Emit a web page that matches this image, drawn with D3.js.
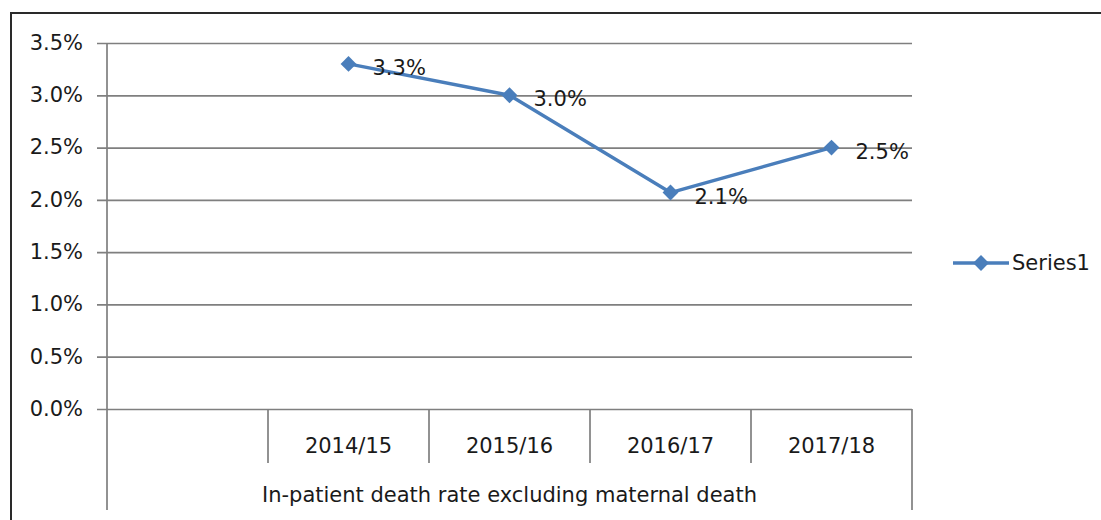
<!DOCTYPE html>
<html>
<head>
<meta charset="utf-8">
<script src="https://cdn.jsdelivr.net/npm/d3@7"></script>
<style>
  html, body { margin: 0; padding: 0; background: #ffffff; }
  svg { display: block; }
  text { font-family: "DejaVu Sans", sans-serif; fill: #1a1a1a; }
</style>
</head>
<body>
<svg id="chart" width="1101" height="520"></svg>
<script>
// ---- data ----
const categories = ["", "2014/15", "2015/16", "2016/17", "2017/18"];
const values = [null, 0.033, 0.030, 0.0207, 0.025];
const valueLabels = [null, "3.3%", "3.0%", "2.1%", "2.5%"];
const yTicks = [0, 0.005, 0.010, 0.015, 0.020, 0.025, 0.030, 0.035];
const groupLabel = "In-patient death rate excluding maternal death";
const seriesName = "Series1";

// ---- layout ----
const W = 1101, H = 520;
const plot = { left: 107, right: 912, top: 43, bottom: 409 };
const lineColor = "#4a7ebb";
const gridColor = "#7f7f7f";
const fs = 21;

const svg = d3.select("#chart");

// outer chart border (extends beyond right/bottom)
svg.append("rect")
  .attr("x", 11).attr("y", 13)
  .attr("width", W + 20).attr("height", H + 20)
  .attr("fill", "#ffffff")
  .attr("stroke", "#2a2a2a").attr("stroke-width", 2);

const x = d3.scaleBand().domain(categories).range([plot.left, plot.right]).padding(0);
const y = d3.scaleLinear().domain([0, 0.035]).range([plot.bottom, plot.top]);

// gridlines + y labels
const yAxis = d3.axisLeft(y)
  .tickValues(yTicks)
  .tickFormat(d3.format(".1%"))
  .tickSize(plot.right - (plot.left - 10))
  .tickPadding(14);
const gy = svg.append("g")
  .attr("transform", `translate(${plot.right},0)`)
  .call(yAxis);
gy.select(".domain").remove();
gy.selectAll(".tick line").attr("stroke", gridColor).attr("stroke-width", 1.7);
gy.selectAll(".tick text")
  .style("font-family", '"DejaVu Sans", sans-serif')
  .attr("font-size", fs).attr("fill", "#1a1a1a").attr("dy", "0.3em");

// y axis line
svg.append("line")
  .attr("x1", plot.left).attr("x2", plot.left)
  .attr("y1", plot.top).attr("y2", 510)
  .attr("stroke", gridColor).attr("stroke-width", 1.7);
// right outer category edge
svg.append("line")
  .attr("x1", plot.right).attr("x2", plot.right)
  .attr("y1", plot.bottom).attr("y2", 510)
  .attr("stroke", gridColor).attr("stroke-width", 1.7);

// inner category dividers
svg.append("g").selectAll("line")
  .data(categories.slice(1))
  .join("line")
  .attr("x1", d => x(d)).attr("x2", d => x(d))
  .attr("y1", plot.bottom).attr("y2", 463)
  .attr("stroke", gridColor).attr("stroke-width", 1.7);

// category labels
const xAxis = d3.axisBottom(x).tickSize(0).tickPadding(0);
const gx = svg.append("g")
  .attr("transform", `translate(0,${plot.bottom})`)
  .call(xAxis);
gx.select(".domain").remove();
gx.selectAll(".tick text")
  .style("font-family", '"DejaVu Sans", sans-serif')
  .attr("font-size", fs).attr("fill", "#1a1a1a")
  .attr("y", 0).attr("dy", 0)
  .attr("transform", "translate(0,44)");

// group label
svg.append("text")
  .attr("x", (plot.left + plot.right) / 2)
  .attr("y", 502)
  .attr("text-anchor", "middle")
  .attr("font-size", fs)
  .text(groupLabel);

// series line
const pts = categories.map((c, i) => ({ c, v: values[i], l: valueLabels[i] })).filter(d => d.v != null);
const line = d3.line().x(d => x(d.c) + x.bandwidth() / 2).y(d => y(d.v));
svg.append("path")
  .datum(pts)
  .attr("d", line)
  .attr("fill", "none")
  .attr("stroke", lineColor)
  .attr("stroke-width", 3.4)
  .attr("stroke-linejoin", "round");

// markers
const diamond = d3.symbol().type(d3.symbolDiamond2).size(160);
svg.append("g").selectAll("path")
  .data(pts)
  .join("path")
  .attr("d", diamond)
  .attr("transform", d => `translate(${x(d.c) + x.bandwidth() / 2},${y(d.v)})`)
  .attr("fill", lineColor);

// data labels
svg.append("g").selectAll("text")
  .data(pts)
  .join("text")
  .attr("x", d => x(d.c) + x.bandwidth() / 2 + 24)
  .attr("y", d => y(d.v) + 11)
  .attr("font-size", fs)
  .text(d => d.l);

// legend
const lg = svg.append("g").attr("transform", "translate(953,263)");
lg.append("line").attr("x1", 0).attr("x2", 56).attr("y1", 0).attr("y2", 0)
  .attr("stroke", lineColor).attr("stroke-width", 3.4);
lg.append("path").attr("d", diamond).attr("transform", "translate(28,0)").attr("fill", lineColor);
lg.append("text").attr("x", 59).attr("y", 7).attr("font-size", fs).text(seriesName);
</script>
</body>
</html>
